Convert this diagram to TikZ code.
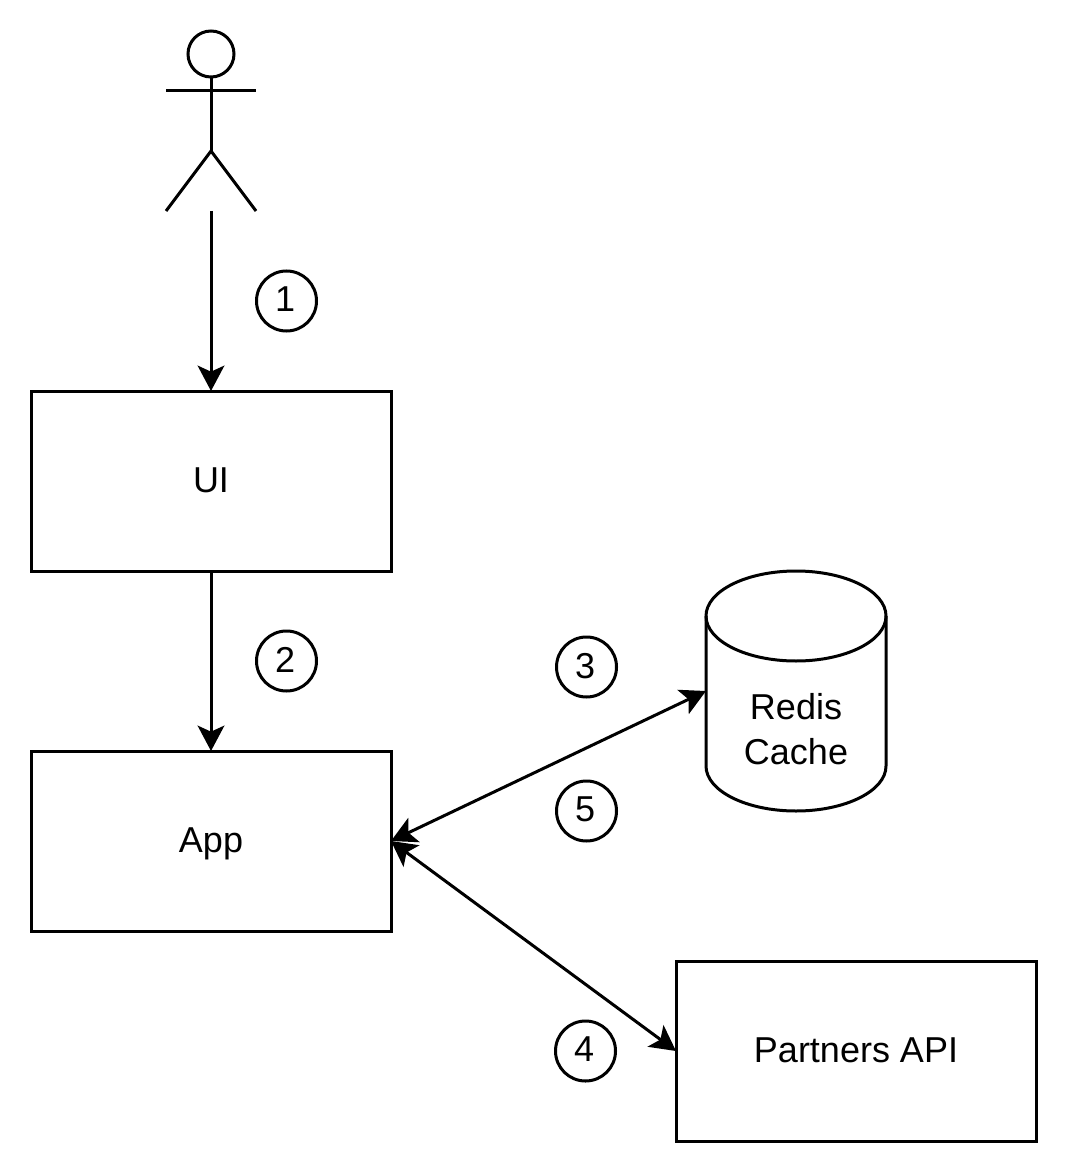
\documentclass[tikz,border=0pt]{standalone}
\usepackage{fontspec}
\setmainfont{Liberation Sans}
\usetikzlibrary{arrows.meta}
\tikzset{
    box/.style={draw,line width=2.25pt,minimum width=270pt,minimum height=135pt,inner sep=0pt,outer sep=0pt,text depth=1.5pt,font=\fontsize{27}{33.75}\selectfont},
    step circle/.style={circle,draw,line width=2.25pt,minimum size=45pt,inner sep=0pt,text depth=2.2pt,execute at end node={\kern2pt},font=\fontsize{27}{33.75}\selectfont},
    tip/.tip={Stealth[length=19pt,width=20pt,inset=4.5pt]},
    link/.style={line width=2.25pt,-tip},
    both link/.style={line width=2.25pt,tip-tip},
    stick/.style={line width=2.25pt}
}
\begin{document}
\begin{tikzpicture}[x=0.75pt,y=-0.75pt]
\useasboundingbox (0,0) rectangle (1068,1176);
% actor
\node[circle,draw,line width=2.25pt,minimum size=34.5pt,inner sep=0pt] (head) at (211,54) {};
\coordinate (hip) at (211,151);
\coordinate (armL) at (166,91);
\coordinate (armR) at (256,91);
\coordinate (legL) at (166,211);
\coordinate (legR) at (256,211);
\coordinate (foot) at (211,211);
\draw[stick] (head.south) -- (hip);
\draw[stick] (armL) -- (armR);
\draw[stick] (legL) -- (hip) -- (legR);
% boxes
\node[box] (UI) at (211,481) {UI};
\node[box] (App) at (211,841) {App};
\node[box] (API) at (856,1051) {Partners API};
% cache
\draw[stick] (706,616) arc[start angle=180,end angle=360,x radius=90,y radius=45]
    -- (886,766) arc[start angle=0,end angle=180,x radius=90,y radius=45] -- cycle;
\draw[stick] (706,616) arc[start angle=180,end angle=0,x radius=90,y radius=45];
\node[align=center,font=\fontsize{27}{33.75}\selectfont] (Cache) at (796,729.5) {Redis\\Cache};
\coordinate (cacheW) at (706,691);
\coordinate (appE) at (391,841);
\coordinate (apiW) at (676,1051);
% arrows
\draw[link] (foot) -- (UI.north);
\draw[link] (UI.south) -- (App.north);
\draw[both link] (appE) -- (cacheW);
\draw[both link] (appE) -- (apiW);
% steps
\node[step circle] (s1) at (286.5,301) {1};
\node[step circle] (s2) at (286.5,661) {2};
\node[step circle] (s3) at (586.5,667) {3};
\node[step circle] (s5) at (586.5,811) {5};
\node[step circle] (s4) at (585.5,1051) {4};
\end{tikzpicture}
\end{document}
